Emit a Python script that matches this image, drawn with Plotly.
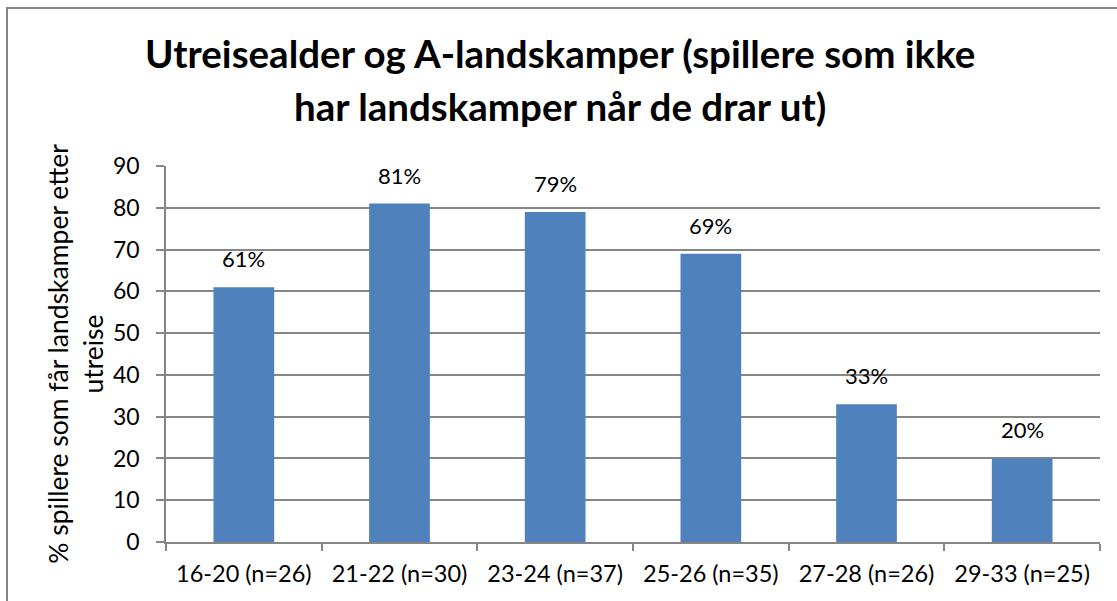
import plotly.graph_objects as go

categories = ["16-20 (n=26)", "21-22 (n=30)", "23-24 (n=37)", "25-26 (n=35)", "27-28 (n=26)", "29-33 (n=25)"]
values = [61, 81, 79, 69, 33, 20]
labels = ["61%", "81%", "79%", "69%", "33%", "20%"]
y_ticks = [0, 10, 20, 30, 40, 50, 60, 70, 80, 90]
title_lines = ["Utreisealder og A-landskamper (spillere som ikke", "har landskamper når de drar ut)"]

FONT = "Lato, Carlito, Calibri, sans-serif"
W, H = 1117, 601
L, R, T, B = 166, 17, 166, 59
PW, PH = W - L - R, H - T - B


def py(pix):
    """pixel y (from top of figure) -> paper y"""
    return (H - B - pix) / PH


def px(pix):
    return (pix - L) / PW


fig = go.Figure()
fig.add_trace(go.Bar(
    x=categories, y=values,
    marker=dict(color="#4F81BD", line=dict(width=0)),
    hoverinfo="skip",
))

annotations = []
for c, v, t in zip(categories, values, labels):
    annotations.append(dict(
        x=c, y=v, xref="x", yref="y", text=t, showarrow=False,
        yanchor="bottom", yshift=13,
        font=dict(family=FONT, size=22, color="#000000"),
    ))

for line, ymid in zip(title_lines, [53, 106]):
    annotations.append(dict(
        x=px(560), y=py(ymid), xref="paper", yref="paper",
        text="<b>" + line + "</b>", showarrow=False,
        xanchor="center", yanchor="middle",
        font=dict(family=FONT, size=38.5, color="#000000"),
    ))

fig.update_layout(
    width=W, height=H,
    margin=dict(l=L, r=R, t=T, b=B),
    paper_bgcolor="white", plot_bgcolor="white",
    bargap=0.61,
    showlegend=False,
    font=dict(family=FONT, size=22, color="#000000"),
    xaxis=dict(
        type="category",
        showline=True, linecolor="#868686", linewidth=1.5,
        ticks="outside", ticklen=7, tickcolor="#868686", tickwidth=1.5,
        tickson="boundaries",
        ticklabelstandoff=10,
        showgrid=False,
        tickfont=dict(family=FONT, size=23.5, color="#000000"),
        fixedrange=True,
    ),
    yaxis=dict(
        range=[0, 90],
        tickvals=y_ticks,
        showline=True, linecolor="#868686", linewidth=1.5,
        ticks="outside", ticklen=8, tickcolor="#868686", tickwidth=1.5,
        ticklabelstandoff=12,
        showgrid=True, gridcolor="#868686", gridwidth=1.5,
        zeroline=False,
        tickfont=dict(family=FONT, size=23, color="#000000"),
        title=dict(
            text="% spillere som får landskamper etter<br>utreise",
            font=dict(family=FONT, size=26.5, color="#000000"),
            standoff=2,
        ),
        fixedrange=True,
    ),
    annotations=annotations,
    shapes=[dict(
        type="rect", xref="paper", yref="paper",
        x0=px(7), x1=1.1, y0=-0.5, y1=py(8),
        line=dict(color="#868686", width=2), fillcolor="rgba(0,0,0,0)",
        layer="below",
    )],
)

fig.write_html("out.html", config={"displayModeBar": False},
               post_script="document.body.style.margin='0';")
